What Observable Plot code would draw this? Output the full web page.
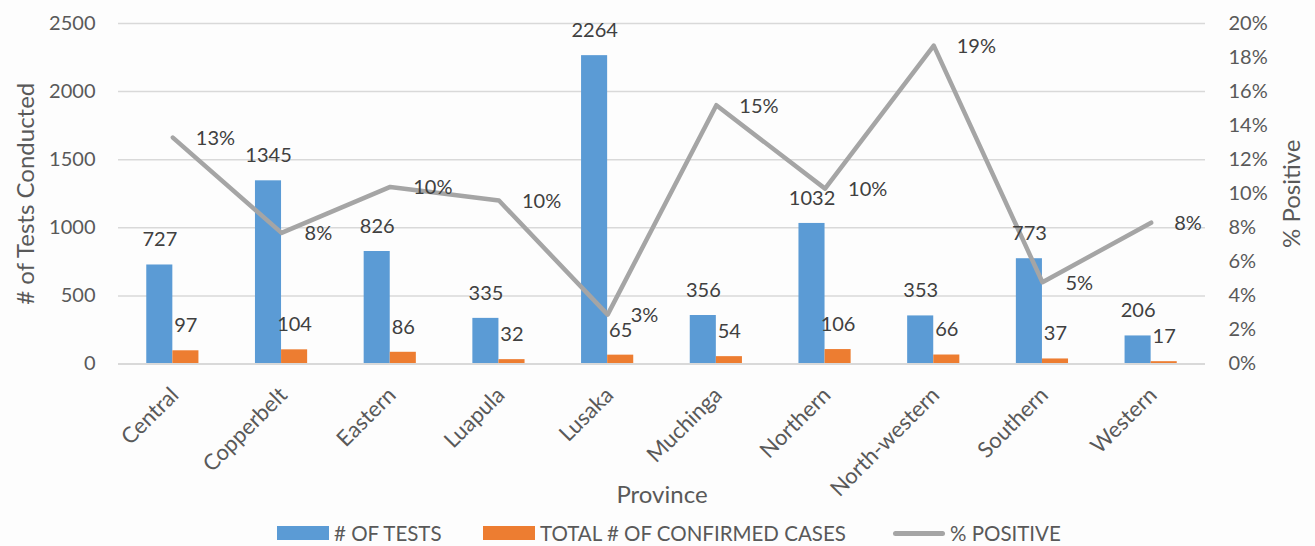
<!DOCTYPE html>
<html>
<head>
<meta charset="utf-8">
<script src="https://cdn.jsdelivr.net/npm/d3@7"></script>
<script src="https://cdn.jsdelivr.net/npm/@observablehq/plot@0.6"></script>
<style>
  html, body { margin: 0; padding: 0; background: #fdfdfd; }
  body { width: 1315px; height: 546px; overflow: hidden; font-family: Lato, "Open Sans", sans-serif; }
  #legend { position: relative; height: 30px; color: #595959; font-size: 20.5px; }
  #legend .item { position: absolute; top: 0; height: 30px; display: flex; align-items: center; }
  #legend .sw { display: inline-block; margin-right: 5px; }
</style>
</head>
<body>
<div id="chart"></div>
<div id="legend"></div>
<script>
const provinces = ["Central", "Copperbelt", "Eastern", "Luapula", "Lusaka", "Muchinga", "Northern", "North-western", "Southern", "Western"];
const tests = [727, 1345, 826, 335, 2264, 356, 1032, 353, 773, 206];
const cases = [97, 104, 86, 32, 65, 54, 106, 66, 37, 17];
const pctPositive = [13.3, 7.7, 10.4, 9.6, 2.9, 15.2, 10.3, 18.7, 4.8, 8.3];
const leftTicks = [0, 500, 1000, 1500, 2000, 2500];
const rightTicks = [0, 2, 4, 6, 8, 10, 12, 14, 16, 18, 20];
const seriesNames = ["# OF TESTS", "TOTAL # OF CONFIRMED CASES", "% POSITIVE"];
const colors = ["#5B9BD5", "#ED7D31", "#A5A5A5"];

const yMax = 2500, pMax = 20;
const pToY = p => p * yMax / pMax;

const data = provinces.map((p, i) => ({province: p, tests: tests[i], cases: cases[i], pct: pctPositive[i], py: pToY(pctPositive[i])}));

const W = 1315, H = 518;
const plotTop = 23, zeroY = 363.5;
const font = "Lato, 'Open Sans', sans-serif";
const labelSize = 20;

const chart = Plot.plot({
  width: W,
  height: H,
  marginLeft: 118,
  marginRight: 110,
  marginTop: plotTop,
  marginBottom: H - zeroY,
  style: {fontFamily: font, background: "transparent", overflow: "visible"},
  x: {domain: provinces, paddingInner: 0.52, paddingOuter: 0.26, round: false, axis: null},
  y: {domain: [0, yMax], axis: null},
  marks: [
    Plot.ruleY(leftTicks.filter(d => d > 0), {stroke: "#D9D9D9", strokeWidth: 1.5}),
    Plot.barY(data, {x: "province", y: "tests", fill: colors[0], insetRight: 26.1}),
    Plot.barY(data, {x: "province", y: "cases", fill: colors[1], insetLeft: 26.1}),
    Plot.ruleY([0], {stroke: "#D9D9D9", strokeWidth: 2}),
    Plot.line(data, {x: "province", y: "py", stroke: colors[2], strokeWidth: 4.5, strokeLinejoin: "round", strokeLinecap: "round"}),
    Plot.text(data, {x: "province", y: "tests", text: d => String(d.tests), dx: -13, dy: -25, fontSize: labelSize, fill: "#404040"}),
    Plot.text(data, {x: "province", y: "cases", text: d => String(d.cases), dx: 13, dy: -25, fontSize: labelSize, fill: "#404040"}),
    Plot.text(data, {x: "province", y: "py", text: d => Math.round(d.pct) + "%", dx: 23, dy: 1, textAnchor: "start", fontSize: labelSize, fill: "#404040"}),
    Plot.axisY({ticks: leftTicks, tickSize: 0, tickPadding: 23, fontSize: labelSize, fill: "#595959", label: null, tickFormat: d => String(d)}),
    Plot.axisY({anchor: "right", ticks: rightTicks.map(pToY), tickSize: 0, tickPadding: 23, fontSize: labelSize, fill: "#595959", label: null, tickFormat: d => Math.round(d * pMax / yMax) + "%"}),
    Plot.text(provinces, {x: d => d, text: d => d, frameAnchor: "bottom", dx: 2, dy: 27.5, rotate: -45, textAnchor: "end", lineAnchor: "middle", fontSize: 22, fill: "#595959"}),
    Plot.text(["# of Tests Conducted"], {frameAnchor: "left", dx: -92, rotate: -90, textAnchor: "middle", lineAnchor: "middle", fontSize: 24, fill: "#595959"}),
    Plot.text(["% Positive"], {frameAnchor: "right", dx: 87, rotate: -90, textAnchor: "middle", lineAnchor: "middle", fontSize: 24, fill: "#595959"}),
    Plot.text(["Province"], {frameAnchor: "bottom", dy: 131.5, textAnchor: "middle", lineAnchor: "middle", fontSize: 24, fill: "#595959"})
  ]
});
document.getElementById("chart").appendChild(chart);

// Legend
const legend = document.getElementById("legend");
const items = [
  {left: 277, type: "box"},
  {left: 483, type: "box"},
  {left: 893, type: "line"}
];
items.forEach((it, i) => {
  const div = document.createElement("div");
  div.className = "item";
  div.style.left = it.left + "px";
  const sw = document.createElement("span");
  sw.className = "sw";
  sw.style.width = "52px";
  sw.style.height = it.type === "box" ? "14px" : "5px";
  sw.style.background = colors[i];
  if (it.type === "line") sw.style.borderRadius = "3px";
  div.appendChild(sw);
  const t = document.createElement("span");
  t.textContent = seriesNames[i];
  div.appendChild(t);
  legend.appendChild(div);
});
</script>
</body>
</html>
